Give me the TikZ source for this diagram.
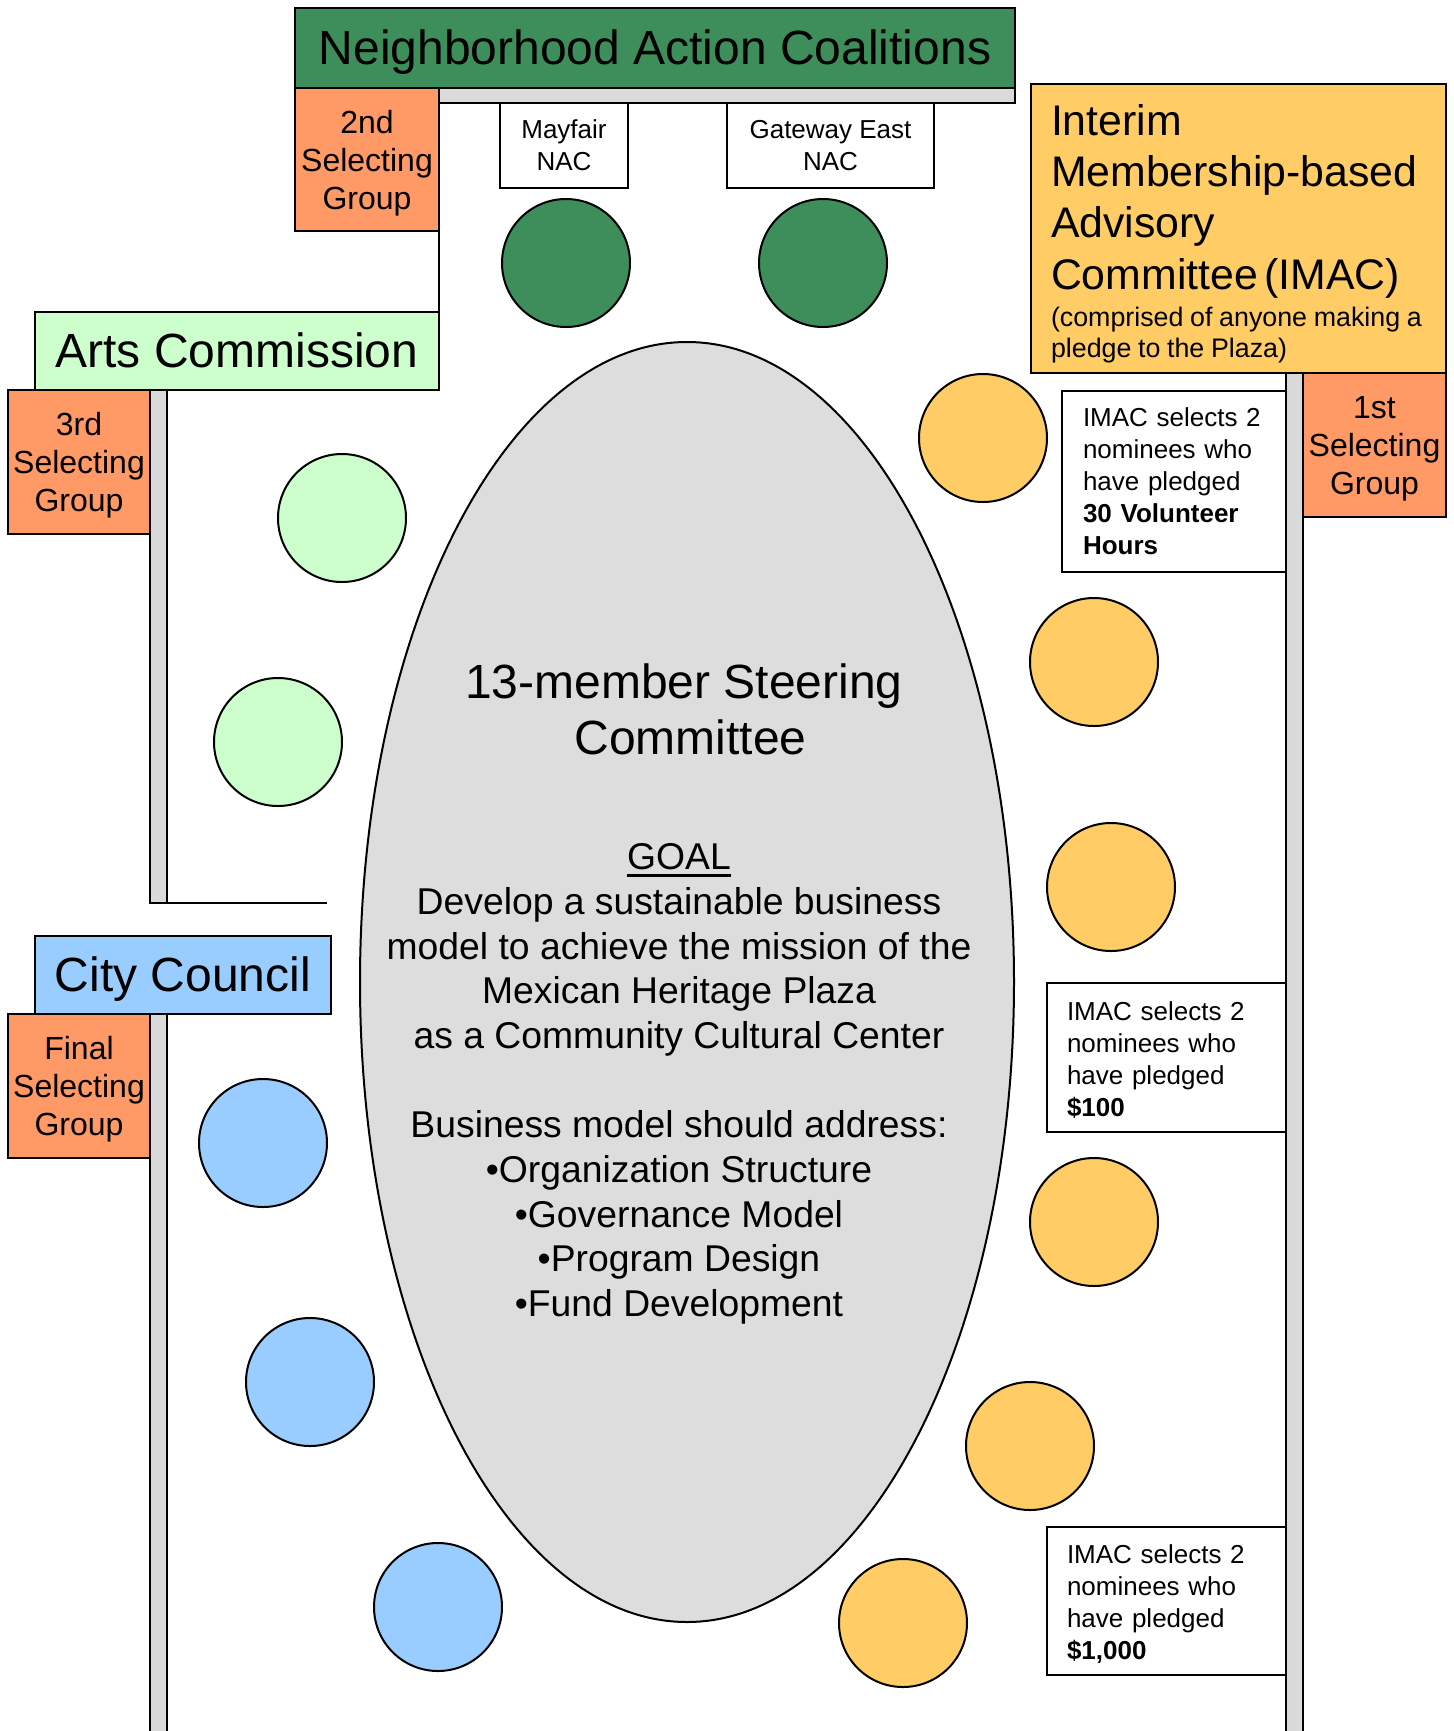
\documentclass[tikz,border=0pt]{standalone}
\usepackage{fontspec}
\setmainfont{Liberation Sans}
\usetikzlibrary{shapes.geometric}
\definecolor{nacgreen}{HTML}{3D8E5A}
\definecolor{selorange}{HTML}{FF9966}
\definecolor{artsgreen}{HTML}{CCFFCC}
\definecolor{cityblue}{HTML}{99CCFF}
\definecolor{imacyellow}{HTML}{FFCC66}
\definecolor{barfill}{HTML}{DADADA}
\definecolor{steergray}{HTML}{DDDDDD}
\newcommand\goalline[1]{\setbox0\hbox{#1}\rlap{\rule[-3.6pt]{\wd0}{1.3pt}}#1}
\begin{document}
\begin{tikzpicture}[x=0.5pt,y=-0.5pt,
  box/.style={draw,line width=1.2pt,inner sep=0pt,outer sep=0pt,anchor=north west,align=center},
  groupbox/.style={box,fill=selorange,minimum width=71.5pt,minimum height=72pt,text depth=-1pt,font=\fontsize{16}{19}\selectfont},
  headbox/.style={box,minimum height=39pt,text depth=0.5pt,font=\fontsize{24}{28}\selectfont},
  nacbox/.style={box,fill=white,line width=1pt,minimum height=42.5pt,font=\fontsize{13}{16}\selectfont},
  notebox/.style={box,fill=white,line width=1pt,align=left,font=\fontsize{13}{16}\selectfont},
  seat/.style={draw,circle,line width=1pt,inner sep=0pt,minimum size=64pt},
  graybar/.style={draw,line width=1.2pt,fill=barfill}]
\useasboundingbox (0,0) rectangle (1453,1731);
%=======bars=============
\draw[graybar] (439,88) rectangle (1015,103);
\draw[graybar] (150,390) rectangle (167,903);
\coordinate (artsend) at (327,903);
\draw[line width=1.2pt] (150,903)--(artsend);
\draw[graybar] (150,1014) rectangle (167,1740);
\draw[graybar] (1286,373) rectangle (1303,1740);
%=======Neighborhood Action Coalitions=============
\node[headbox,fill=nacgreen,minimum width=360pt,minimum height=40pt] (nac) at (295,8) {Neighborhood Action Coalitions};
\node[groupbox,minimum width=72pt,minimum height=71.5pt] (sel2) at (295,88) {2nd\\Selecting\\Group};
\node[nacbox,minimum width=64pt] (mayfair) at (500,103) {Mayfair\\NAC};
\node[nacbox,minimum width=103.5pt] (gateway) at (727,103) {Gateway East\\NAC};
\node[seat,fill=nacgreen] (nacseat1) at (566,263) {};
\node[seat,fill=nacgreen] (nacseat2) at (823,263) {};
%=======Arts Commission=============
\node[headbox,fill=artsgreen,minimum width=202pt] (arts) at (35,312) {Arts Commission};
\draw[line width=1.2pt] (sel2.south east)--(arts.north east);
\node[groupbox,minimum width=71pt] (sel3) at (8,390) {3rd\\Selecting\\Group};
\node[seat,fill=artsgreen] (artsseat1) at (342,518) {};
\node[seat,fill=artsgreen] (artsseat2) at (278,742) {};
%=======City Council=============
\node[headbox,fill=cityblue,minimum width=148pt] (city) at (35,936) {City Council};
\node[groupbox,minimum width=71pt] (selF) at (8,1014) {Final\\Selecting\\Group};
\node[seat,fill=cityblue] (cityseat1) at (263,1143) {};
\node[seat,fill=cityblue] (cityseat2) at (310,1382) {};
\node[seat,fill=cityblue] (cityseat3) at (438,1607) {};
%=======IMAC=============
\node[box,fill=imacyellow,align=left,minimum width=207.5pt,minimum height=144.5pt,text width=187.5pt,inner xsep=10pt,text height=20.4pt] (imac) at (1031,84)
  {{\fontsize{21.4}{25.7}\selectfont Interim\\Membership-based\\Advisory\\Committee (IMAC)\par}\vspace{3pt}{\fontsize{13.4}{15.5}\selectfont (comprised of anyone making a\\pledge to the Plaza)\par}};
\node[groupbox] (sel1) at (1303,373) {1st\\Selecting\\Group};
\node[notebox,minimum width=112pt,minimum height=90.5pt,text width=91pt,inner xsep=10.5pt] (note1) at (1062,391) {IMAC selects 2\\nominees who\\have pledged\\\textbf{30 Volunteer}\\\textbf{Hours}};
\node[notebox,minimum width=119.5pt,minimum height=74.5pt,text width=99.5pt,inner xsep=10pt,text height=12pt] (note2) at (1047,983) {IMAC selects 2\\nominees who\\have pledged\\\textbf{\$100}};
\node[notebox,minimum width=119.5pt,minimum height=74pt,text width=99.5pt,inner xsep=10pt,text height=12pt] (note3) at (1047,1527) {IMAC selects 2\\nominees who\\have pledged\\\textbf{\$1,000}};
\node[seat,fill=imacyellow] (imacseat1) at (983,438) {};
\node[seat,fill=imacyellow] (imacseat2) at (1094,662) {};
\node[seat,fill=imacyellow] (imacseat3) at (1111,887) {};
\node[seat,fill=imacyellow] (imacseat4) at (1094,1222) {};
\node[seat,fill=imacyellow] (imacseat5) at (1030,1446) {};
\node[seat,fill=imacyellow] (imacseat6) at (903,1623) {};
%=======Steering Committee=============
\node[draw,ellipse,line width=1pt,fill=steergray,inner sep=0pt,minimum width=327pt,minimum height=640pt] (steer) at (687,982) {};
\node[align=center,font=\fontsize{24}{28}\selectfont] (steertitle) at (684,709) {13-member Steering\\\hspace*{6.5pt}Committee};
\node[align=center,font=\fontsize{18.65}{22.35}\selectfont] (steergoal) at (679,1084) {\goalline{GOAL}\\Develop a sustainable business\\model to achieve the mission of the\\Mexican Heritage Plaza\\as a Community Cultural Center\\[22.35pt]Business model should address:\\•Organization Structure\\•Governance Model\\•Program Design\\•Fund Development};
\end{tikzpicture}
\end{document}
